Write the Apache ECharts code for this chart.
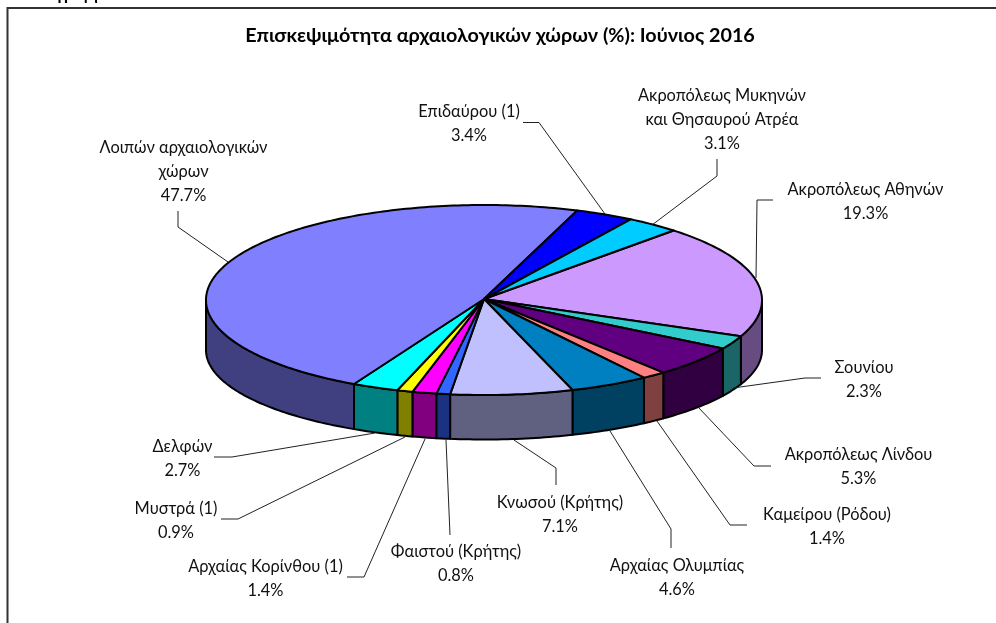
<!DOCTYPE html>
<html>
<head>
<meta charset="utf-8">
<style>html,body{margin:0;padding:0;background:#fff}#c{width:996px;height:623px}</style>
<script src="https://cdn.jsdelivr.net/npm/echarts@6/dist/echarts.min.js"></script>
</head>
<body>
<div id="c"></div>
<script>
// Data, clockwise from the first slice
const categories = [
  'Ακροπόλεως Αθηνών', 'Σουνίου', 'Ακροπόλεως Λίνδου', 'Καμείρου (Ρόδου)', 'Αρχαίας Ολυμπίας',
  'Κνωσού (Κρήτης)', 'Φαιστού (Κρήτης)', 'Αρχαίας Κορίνθου (1)', 'Μυστρά (1)', 'Δελφών',
  'Λοιπών αρχαιολογικών\nχώρων', 'Επιδαύρου (1)', 'Ακροπόλεως Μυκηνών\nκαι Θησαυρού Ατρέα'
];
const values = [19.3, 2.3, 5.3, 1.4, 4.6, 7.1, 0.8, 1.4, 0.9, 2.7, 47.7, 3.4, 3.1];
const title = 'Επισκεψιμότητα αρχαιολογικών χώρων (%): Ιούνιος 2016';
const heading = 'Διάγραμμα';

// Styles and layout
const colors = ['#CC99FF', '#33CCCC', '#600080', '#FF8080', '#0080C0', '#C0C0FF', '#3366FF',
  '#FF00FF', '#FFFF00', '#00FFFF', '#8080FF', '#0000FF', '#00CCFF'];
const wallColors = ['#664C80', '#1A6666', '#300040', '#804040', '#004060', '#606080', '#1A3380',
  '#800080', '#808000', '#008080', '#404080', '#000080', '#006680'];
const labelCenters = [[865.5,201.5],[864,379.5],[858.5,466.5],[827,526.5],[677,577.5],[560,515],[456,563.5],
  [265.5,579],[176,521],[182.5,459],[183.5,171.5],[469,124],[722,120]];
const leaders = [
  [[773,200],[757,200],[756,278]],
  [[821,378],[805,378],[733,388]],
  [[771,466],[754,466],[698,407]],
  [[747,525],[730,525],[657,421]],
  [[671,548],[671,529],[610,431]],
  [[556,485],[556,468],[514,440]],
  [[450,535],[446,440]],
  [[347,577],[364,577],[425,439]],
  [[221,519],[238,519],[405,437]],
  [[214,457],[232,457],[375,433]],
  [[178,211],[178,227],[228,262]],
  [[523,122.5],[539,122.5],[605,214]],
  [[717,159],[717,176],[652,225]]
];
const FONT = 'Lato, "Open Sans", "Noto Sans", sans-serif';
const START = 43.0, CX = 484, CY = 300, RX = 278, RY = 95, BOT_CY = 350, BOT_RY = 89.5;
const total = values.reduce((a, b) => a + b, 0);
const rad = d => d * Math.PI / 180;
const topPt = a => [CX + RX * Math.sin(rad(a)), CY - RY * Math.cos(rad(a))];
const botPt = a => [CX + RX * Math.sin(rad(a)), BOT_CY - BOT_RY * Math.cos(rad(a))];
function range(i) {
  let s = 0;
  for (let k = 0; k < i; k++) s += values[k];
  return [START + s / total * 360, START + (s + values[i]) / total * 360];
}
function arc(fn, a, b) {
  const n = Math.max(2, Math.ceil(Math.abs(b - a)));
  const out = [];
  for (let j = 0; j <= n; j++) out.push(fn(a + (b - a) * j / n));
  return out;
}
function renderWall(params, api) {
  const i = params.dataIndex;
  const [a, b] = range(i);
  const lo = Math.max(a, 90), hi = Math.min(b, 270);
  if (hi <= lo) return { type: 'group', children: [] };
  return { type: 'polygon', shape: { points: arc(topPt, lo, hi).concat(arc(botPt, hi, lo)) },
    style: { fill: wallColors[i], stroke: '#000', lineWidth: 2, lineJoin: 'round' } };
}
function renderTop(params, api) {
  const i = params.dataIndex;
  const [a, b] = range(i);
  return { type: 'polygon', shape: { points: [[CX, CY - 1]].concat(arc(topPt, a, b)) },
    style: { fill: colors[i], stroke: '#000', lineWidth: 2, lineJoin: 'round' } };
}
function renderLabel(params, api) {
  const i = params.dataIndex;
  return { type: 'group', children: [
    { type: 'polyline', shape: { points: leaders[i] }, style: { fill: 'none', stroke: '#222', lineWidth: 1 } },
    { type: 'text', x: labelCenters[i][0], y: labelCenters[i][1],
      style: { text: categories[i] + '\n' + api.value(0).toFixed(1) + '%', fontFamily: FONT, fontSize: 16.4,
        lineHeight: 23.8, fill: '#111', align: 'center', verticalAlign: 'middle' } }
  ] };
}
const seriesData = values.map((v, i) => ({ name: categories[i], value: [v] }));
const chart = echarts.init(document.getElementById('c'), null, { renderer: 'canvas' });
chart.setOption({
  animation: false,
  backgroundColor: '#fff',
  title: { text: title, left: 495, top: 21, textAlign: 'center',
    textStyle: { fontFamily: FONT, fontSize: 19.75, fontWeight: 'bold', color: '#000' } },
  graphic: [
    { type: 'polyline', shape: { points: [[7.5, 640], [7.5, 8], [1000, 8]] },
      style: { fill: 'none', stroke: '#333', lineWidth: 2 } },
    { type: 'text', x: 28, y: -14, style: { text: heading, fontFamily: FONT, fontSize: 17, fontWeight: 'bold', fill: '#000' } }
  ],
  series: [
    { type: 'custom', coordinateSystem: 'none', renderItem: renderWall, data: seriesData, silent: true, z: 2 },
    { type: 'custom', coordinateSystem: 'none', renderItem: renderTop, data: seriesData, silent: true, z: 3 },
    { type: 'custom', coordinateSystem: 'none', renderItem: renderLabel, data: seriesData, silent: true, z: 4 }
  ]
});
</script>
</body>
</html>
